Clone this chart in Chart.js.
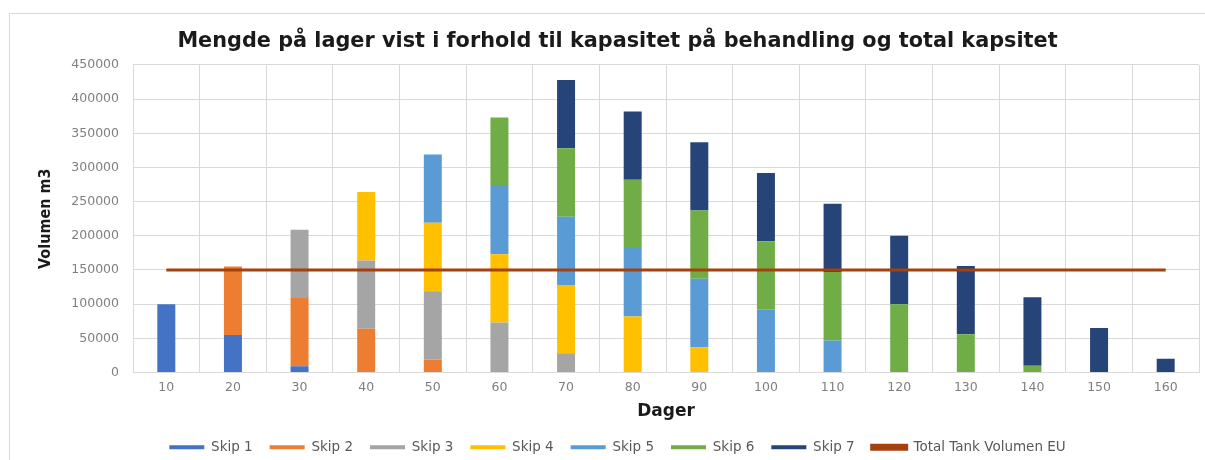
<!DOCTYPE html>
<html>
<head>
<meta charset="utf-8">
<script src="https://cdn.jsdelivr.net/npm/chart.js@4/dist/chart.umd.min.js"></script>
<style>
  html, body { margin: 0; padding: 0; background: #fff; }
  #wrap { position: relative; width: 1205px; height: 460px; overflow: hidden; }
  #frame { position: absolute; left: 9px; top: 13px; width: 1300px; height: 600px;
           border-top: 1px solid #d9d9d9; border-left: 1px solid #d9d9d9; }
  canvas { position: absolute; left: 0; top: 0; }
</style>
</head>
<body>
<div id="wrap">
  <div id="frame"></div>
  <canvas id="chart" width="1205" height="460"></canvas>
</div>
<script>
// Days on the x axis
const days = ['10', '20', '30', '40', '50', '60', '70', '80', '90', '100', '110', '120', '130', '140', '150', '160'];

// Volume per ship (m3) (null = nothing in stock)
const skip1 = [100000, 55000, 9000, null, null, null, null, null, null, null, null, null, null, null, null, null];
const skip2 = [null, 100000, 100000, 64000, 19000, null, null, null, null, null, null, null, null, null, null, null];
const skip3 = [null, null, 100000, 100000, 100000, 73000, 28000, null, null, null, null, null, null, null, null, null];
const skip4 = [null, null, null, 100000, 100000, 100000, 100000, 82000, 37000, null, null, null, null, null, null, null];
const skip5 = [null, null, null, null, 100000, 100000, 100000, 100000, 100000, 92000, 47000, null, null, null, null, null];
const skip6 = [null, null, null, null, null, 100000, 100000, 100000, 100000, 100000, 100000, 100000, 56000, 10000, null, null];
const skip7 = [null, null, null, null, null, null, 100000, 100000, 100000, 100000, 100000, 100000, 100000, 100000, 65000, 20000];

// Total tank volume EU (constant limit)
const tankLimit = [150000, 150000, 150000, 150000, 150000, 150000, 150000, 150000,
                   150000, 150000, 150000, 150000, 150000, 150000, 150000, 150000];

const yTicks = [0, 50000, 100000, 150000, 200000, 250000, 300000, 350000, 400000, 450000];

const COLORS = {
    skip1: '#4472c4',
    skip2: '#ed7d31',
    skip3: '#a5a5a5',
    skip4: '#ffc000',
    skip5: '#5b9bd5',
    skip6: '#70ad47',
    skip7: '#264478',
    tank: '#a5400f',
    grid: '#d9d9d9',
    tick: '#7f7f7f',
    legend: '#595959',
};

function barSet(label, data, color) {
    return {
        type: 'bar',
        label: label,
        data: data,
        backgroundColor: color,
        borderWidth: 0,
        barPercentage: 0.27,
        categoryPercentage: 1,
        stack: 'lager',
        order: 2,
    };
}

const ctx = document.getElementById('chart').getContext('2d');
new Chart(ctx, {
    data: {
        labels: days,
        datasets: [
            barSet('Skip 1', skip1, COLORS.skip1),
            barSet('Skip 2', skip2, COLORS.skip2),
            barSet('Skip 3', skip3, COLORS.skip3),
            barSet('Skip 4', skip4, COLORS.skip4),
            barSet('Skip 5', skip5, COLORS.skip5),
            barSet('Skip 6', skip6, COLORS.skip6),
            barSet('Skip 7', skip7, COLORS.skip7),
            {
                type: 'line',
                label: 'Total Tank Volumen EU',
                data: tankLimit,
                borderColor: COLORS.tank,
                backgroundColor: COLORS.tank,
                borderWidth: 3,
                pointRadius: 0,
                tension: 0,
                order: 1,
            }
        ]
    },
    options: {
        responsive: false,
        animation: false,
        layout: { padding: { left: 36, right: 6, top: 0, bottom: -4 } },
        plugins: {
            title: {
                display: true,
                text: 'Mengde på lager vist i forhold til kapasitet på behandling og total kapsitet',
                color: '#1a1a1a',
                font: { family: "'DejaVu Sans'", size: 20.8, weight: 'bold' },
                padding: { top: 29, bottom: 11 },
            },
            legend: {
                position: 'bottom',
                labels: {
                    boxWidth: 35,
                    boxHeight: 4,
                    padding: 17,
                    color: COLORS.legend,
                    font: { family: "'DejaVu Sans'", size: 13.5 },
                    sort: (a, b) => a.datasetIndex - b.datasetIndex,
                },
            },
            tooltip: { enabled: false },
        },
        scales: {
            x: {
                stacked: true,
                grid: { color: COLORS.grid, offset: true, drawTicks: false },
                border: { color: COLORS.grid },
                ticks: {
                    color: COLORS.tick,
                    padding: 8,
                    font: { family: "'DejaVu Sans'", size: 12.5 },
                },
                title: {
                    display: true,
                    text: 'Dager',
                    color: '#1a1a1a',
                    font: { family: "'DejaVu Sans'", size: 17, weight: 'bold' },
                    padding: { top: 4, bottom: 2 },
                },
                afterFit: (axis) => { axis.height = 51; },
            },
            y: {
                stacked: true,
                min: 0,
                max: 450000,
                afterBuildTicks: (axis) => { axis.ticks = yTicks.map(v => ({ value: v })); },
                grid: { color: COLORS.grid, drawTicks: false },
                border: { color: COLORS.grid },
                ticks: {
                    color: COLORS.tick,
                    padding: 14,
                    font: { family: "'DejaVu Sans'", size: 12.5 },
                    callback: (v) => String(v),
                },
                title: {
                    display: true,
                    text: 'Volumen m3',
                    color: '#1a1a1a',
                    font: { family: "'DejaVu Sans Condensed'", size: 16, weight: 'bold' },
                    padding: { top: 0, bottom: 6 },
                },
                afterFit: (axis) => { axis.width = 97; },
            },
        },
    },
});
</script>
</body>
</html>
